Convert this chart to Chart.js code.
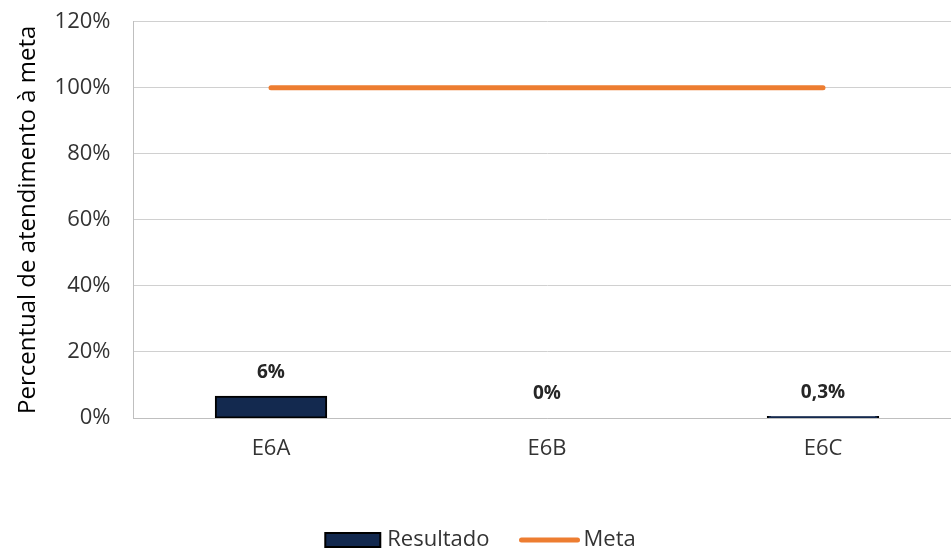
<!DOCTYPE html>
<html>
<head>
<meta charset="utf-8">
<script src="https://cdn.jsdelivr.net/npm/chart.js@4.4.1/dist/chart.umd.min.js"></script>
<style>
  html, body { margin: 0; padding: 0; background: #fff; overflow: hidden; }
  #wrap { width: 961px; height: 553px; position: relative; }
</style>
</head>
<body>
<div id="wrap"><canvas id="grafico"></canvas></div>
<script>
const categorias = ["E6A", "E6B", "E6C"];
const resultado = [6.4, 0, 0.3];
const meta = [100, 100, 100];
const tituloY = "Percentual de atendimento à meta";

const FONTE = "'Open Sans', sans-serif";
const corBarra = "#13294F";
const corMeta = "#ED7D31";
const corTexto = "#333333";

function formataPct(v) {
  if (v >= 1 || v === 0) return Math.round(v) + "%";
  return v.toFixed(1).replace(".", ",") + "%";
}

// rotulos em cima das barras
const rotulos = {
  id: "rotulos",
  afterDatasetsDraw(chart) {
    const ctx = chart.ctx;
    const meta0 = chart.getDatasetMeta(0);
    ctx.save();
    ctx.font = "bold 19px " + FONTE;
    ctx.fillStyle = "#262626";
    ctx.textAlign = "center";
    ctx.textBaseline = "middle";
    meta0.data.forEach((bar, i) => {
      ctx.fillText(formataPct(resultado[i]), bar.x, bar.y - 24);
    });
    ctx.restore();
  }
};

// legenda desenhada na parte de baixo
const legenda = {
  id: "legenda",
  afterDraw(chart) {
    const ctx = chart.ctx;
    const y = 540;
    ctx.save();
    ctx.font = "22px " + FONTE;
    const t1 = chart.data.datasets[0].label;
    const t2 = chart.data.datasets[1].label;
    const w1 = ctx.measureText(t1).width;
    const w2 = ctx.measureText(t2).width;
    const total = 55 + 7 + w1 + 30 + 60 + 4 + w2;
    let x = chart.width / 2 - total / 2;
    ctx.fillStyle = corBarra;
    ctx.strokeStyle = "#000";
    ctx.lineWidth = 2;
    ctx.fillRect(x, y - 7, 55, 14);
    ctx.strokeRect(x, y - 7, 55, 14);
    x += 55 + 7;
    ctx.fillStyle = corTexto;
    ctx.textBaseline = "middle";
    ctx.fillText(t1, x, y);
    x += w1 + 30;
    ctx.strokeStyle = corMeta;
    ctx.lineWidth = 5;
    ctx.lineCap = "round";
    ctx.beginPath();
    ctx.moveTo(x + 2, y);
    ctx.lineTo(x + 58, y);
    ctx.stroke();
    x += 60 + 4;
    ctx.fillText(t2, x, y);
    ctx.restore();
  }
};

new Chart(document.getElementById("grafico"), {
  type: "bar",
  data: {
    labels: categorias,
    datasets: [
      {
        label: "Resultado",
        data: resultado,
        backgroundColor: corBarra,
        borderColor: "#000",
        borderWidth: 2,
        borderSkipped: false,
        inflateAmount: 1,
        categoryPercentage: 1,
        barPercentage: 0.4,
        order: 2
      },
      {
        type: "line",
        label: "Meta",
        data: meta,
        borderColor: corMeta,
        borderWidth: 5,
        borderCapStyle: "round",
        pointRadius: 0,
        fill: false,
        order: 1
      }
    ]
  },
  options: {
    responsive: true,
    maintainAspectRatio: false,
    animation: false,
    layout: { padding: { top: 0, right: 0, bottom: 0, left: 0 } },
    plugins: {
      legend: { display: false },
      tooltip: { enabled: false }
    },
    scales: {
      x: {
        grid: { display: false, drawTicks: false },
        border: { display: true, color: "#BFBFBF", width: 1 },
        ticks: {
          color: corTexto,
          font: { family: FONTE, size: 22 },
          padding: 18
        },
        afterFit(scale) { scale.height = 135; }
      },
      y: {
        min: 0,
        max: 120,
        ticks: {
          stepSize: 20,
          color: corTexto,
          font: { family: FONTE, size: 22 },
          padding: 8.5,
          callback: v => v + "%"
        },
        grid: { color: "#D0D0D0", lineWidth: 1, drawTicks: true, tickLength: 14, tickColor: "rgba(0,0,0,0)" },
        border: { display: true, color: "#BFBFBF", width: 1 },
        title: {
          display: true,
          text: tituloY,
          color: "#000",
          font: { family: FONTE, size: 24 },
          padding: { top: 14, bottom: 0 }
        },
        afterFit(scale) { scale.width = 133; }
      }
    }
  },
  plugins: [rotulos, legenda]
});
</script>
</body>
</html>
